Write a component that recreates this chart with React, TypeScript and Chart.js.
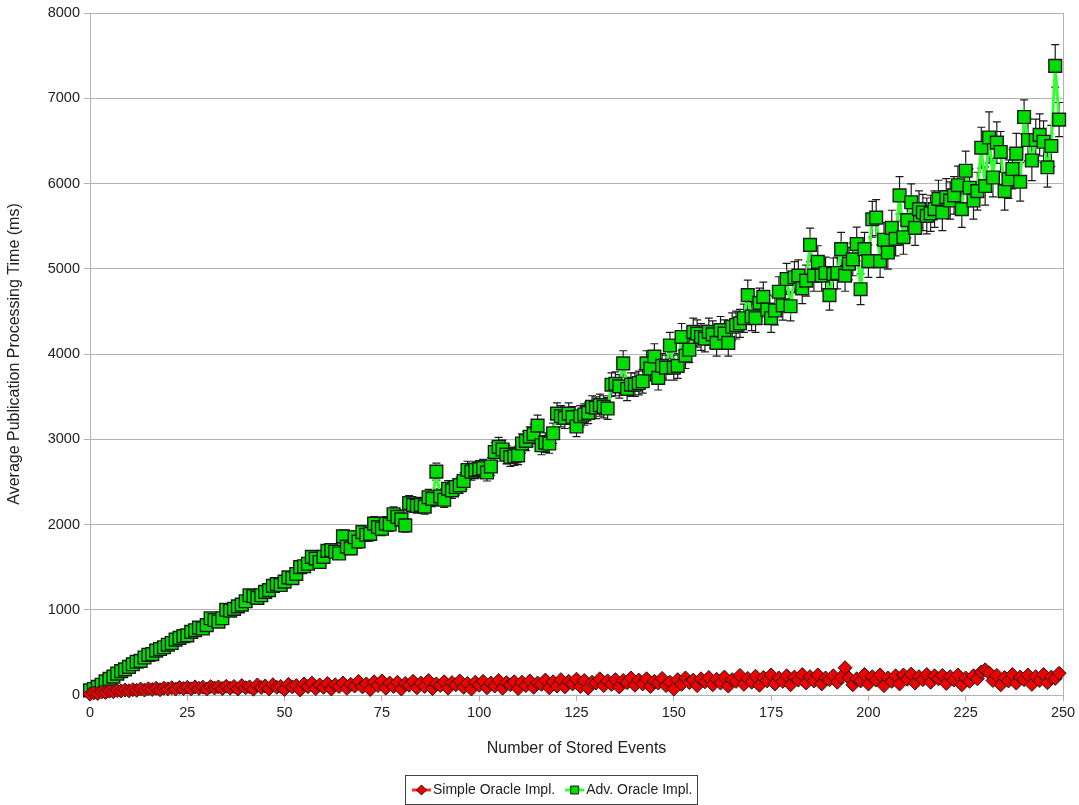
import { useEffect, useRef } from "react";
import { Chart, registerables } from "chart.js";

Chart.register(...registerables);

// Number of stored events for each measurement (0 .. 249)
const EVENT_COUNTS: number[] = Array.from({ length: 250 }, (_, i) => i);

const SERIES_LABELS = ["Simple Oracle Impl.", "Adv. Oracle Impl."];

// Average publication processing time (ms), simple oracle implementation
const SIMPLE_MS: number[] = [
  10, 25, 18, 35, 30, 45, 38, 52, 48, 58,
  50, 62, 55, 70, 58, 72, 65, 78, 62, 80,
  72, 85, 70, 88, 75, 90, 72, 95, 78, 92,
  70, 98, 82, 95, 75, 102, 80, 100, 70, 110,
  85, 95, 68, 118, 88, 105, 72, 120, 90, 100,
  65, 125, 95, 110, 60, 130, 98, 140, 75, 118,
  90, 135, 70, 120, 100, 140, 78, 125, 105, 160,
  95, 130, 65, 155, 110, 165, 80, 140, 100, 150,
  70, 135, 115, 160, 85, 140, 100, 170, 75, 130,
  110, 155, 80, 145, 120, 165, 90, 135, 70, 150,
  115, 160, 85, 140, 105, 170, 80, 145, 120, 155,
  75, 150, 110, 165, 90, 140, 125, 175, 85, 155,
  105, 180, 95, 160, 130, 185, 100, 170, 80, 150,
  140, 190, 110, 165, 125, 180, 95, 170, 145, 200,
  115, 175, 130, 190, 100, 160, 140, 195, 110, 150,
  70, 180, 125, 200, 145, 175, 110, 190, 155, 205,
  120, 185, 140, 210, 105, 180, 160, 230, 125, 195,
  150, 220, 115, 205, 165, 235, 130, 200, 160, 225,
  120, 210, 175, 240, 140, 215, 165, 235, 130, 200,
  180, 225, 150, 210, 320, 200, 120, 190, 165, 240,
  130, 215, 175, 235, 110, 200, 160, 225, 130, 235,
  185, 245, 140, 215, 180, 240, 150, 225, 190, 230,
  135, 215, 175, 235, 120, 200, 160, 225, 190, 270,
  295, 260, 170, 230, 120, 205, 165, 240, 140, 210,
  180, 235, 125, 215, 170, 240, 145, 210, 195, 255,
];

// Average publication processing time (ms), advanced oracle implementation
const ADV_MS: number[] = [
  55, 70, 95, 120, 160, 190, 215, 250, 280, 300,
  330, 360, 390, 400, 440, 470, 480, 520, 540, 560,
  590, 610, 650, 670, 690, 700, 740, 760, 790, 780,
  820, 900, 880, 860, 900, 1000, 990, 1010, 1040, 1060,
  1100, 1170, 1160, 1140, 1170, 1210, 1230, 1280, 1300, 1290,
  1330, 1380, 1370, 1420, 1500, 1510, 1540, 1620, 1600, 1560,
  1620, 1690, 1700, 1680, 1660, 1860, 1740, 1720, 1850, 1800,
  1910, 1880, 1890, 2010, 1970, 1950, 2010, 2000, 2120, 2090,
  2060, 1990, 2250, 2230, 2220, 2230, 2210, 2320, 2300, 2620,
  2330, 2290, 2420, 2400, 2440, 2460, 2510, 2640, 2620, 2640,
  2650, 2660, 2610, 2680, 2850, 2910, 2880, 2820, 2790, 2800,
  2810, 2950, 2980, 3030, 3060, 3160, 2930, 2960, 2950, 3070,
  3300, 3270, 3250, 3300, 3260, 3150, 3270, 3290, 3310, 3380,
  3370, 3400, 3380, 3360, 3640, 3650, 3620, 3890, 3590, 3640,
  3640, 3660, 3680, 3890, 3830, 3970, 3720, 3860, 3840, 4100,
  3840, 3860, 4200, 3980, 4050, 4260, 4240, 4200, 4180, 4260,
  4230, 4130, 4280, 4240, 4130, 4320, 4340, 4360, 4420, 4690,
  4440, 4420, 4600, 4670, 4520, 4420, 4510, 4730, 4570, 4880,
  4560, 4900, 4920, 4770, 4860, 5280, 4920, 5080, 4920, 4950,
  4690, 4940, 4950, 5230, 4920, 5060, 5110, 5290, 4760, 5230,
  5090, 5580, 5600, 5090, 5340, 5190, 5480, 5350, 5860, 5370,
  5570, 5780, 5480, 5700, 5660, 5620, 5650, 5700, 5820, 5660,
  5840, 5800, 5860, 5980, 5700, 6150, 5950, 5800, 5910, 6420,
  5970, 6540, 6070, 6480, 6370, 5910, 6050, 6170, 6350, 6020,
  6780, 6510, 6270, 6510, 6570, 6490, 6190, 6440, 7380, 6750,
];

// Half-width of the error bar (ms) for each advanced-oracle measurement
const ADV_ERR: number[] = [
  8, 10, 12, 12, 14, 15, 16, 18, 18, 20,
  20, 22, 22, 24, 25, 26, 26, 28, 28, 30,
  30, 31, 32, 33, 34, 35, 36, 36, 38, 38,
  40, 42, 42, 40, 42, 45, 44, 46, 46, 48,
  50, 52, 52, 50, 52, 54, 55, 56, 58, 58,
  60, 60, 62, 62, 64, 65, 66, 68, 68, 66,
  70, 72, 72, 70, 70, 78, 74, 74, 76, 76,
  78, 78, 80, 82, 80, 80, 82, 82, 86, 84,
  84, 80, 88, 88, 86, 88, 88, 92, 90, 100,
  92, 90, 94, 94, 96, 96, 98, 102, 100, 102,
  100, 104, 100, 104, 110, 112, 110, 108, 108, 108,
  108, 112, 114, 116, 118, 122, 112, 114, 114, 118,
  126, 124, 124, 126, 124, 120, 124, 126, 126, 130,
  128, 130, 130, 128, 138, 140, 138, 148, 136, 138,
  138, 140, 140, 148, 146, 150, 142, 146, 146, 154,
  146, 146, 158, 150, 152, 160, 160, 158, 156, 160,
  158, 156, 160, 160, 156, 162, 164, 164, 166, 176,
  166, 166, 172, 174, 170, 166, 170, 176, 172, 182,
  172, 184, 184, 178, 182, 196, 184, 190, 184, 186,
  176, 186, 186, 196, 184, 190, 192, 198, 180, 196,
  190, 210, 210, 190, 200, 194, 206, 200, 220, 200,
  208, 216, 206, 214, 212, 210, 212, 214, 218, 212,
  218, 218, 220, 224, 214, 230, 222, 218, 222, 240,
  224, 300, 228, 244, 240, 222, 226, 232, 238, 226,
  200, 244, 236, 244, 246, 244, 232, 242, 250, 200,
];

const X_MIN = 0;
const X_MAX = 250;
const X_STEP = 25;
const Y_MIN = 0;
const Y_MAX = 8000;
const Y_STEP = 1000;

const FONT_FAMILY = "'Liberation Sans', Arial, Helvetica, sans-serif";
const TEXT_COLOR = "#222222";
const GRID_COLOR = "#b3b3b3";

const SIMPLE_LINE = "#ff2a2a";
const SIMPLE_FILL = "#ee0000";
const ADV_LINE = "#33ff33";
const ADV_FILL = "#00dd00";
const MARKER_EDGE = "#1a1a1a";

// Vertical error bars with caps, drawn beneath the series
const errorBarPlugin = {
  id: "errorBars",
  beforeDatasetsDraw(chart: any) {
    const { ctx, scales } = chart;
    const xs = scales.x;
    const ys = scales.y;
    ctx.save();
    ctx.strokeStyle = MARKER_EDGE;
    ctx.lineWidth = 1.2;
    ADV_MS.forEach((v, i) => {
      const e = ADV_ERR[i];
      const px = xs.getPixelForValue(EVENT_COUNTS[i]);
      const top = ys.getPixelForValue(v + e);
      const bot = ys.getPixelForValue(v - e);
      ctx.beginPath();
      ctx.moveTo(px, top);
      ctx.lineTo(px, bot);
      ctx.moveTo(px - 4, top);
      ctx.lineTo(px + 4, top);
      ctx.moveTo(px - 4, bot);
      ctx.lineTo(px + 4, bot);
      ctx.stroke();
    });
    ctx.restore();
  },
};

// Thin frame around the plotting area
const framePlugin = {
  id: "plotFrame",
  beforeDatasetsDraw(chart: any) {
    const { ctx, chartArea } = chart;
    ctx.save();
    ctx.strokeStyle = GRID_COLOR;
    ctx.lineWidth = 1;
    ctx.strokeRect(
      Math.round(chartArea.left) + 0.5,
      Math.round(chartArea.top) + 0.5,
      Math.round(chartArea.right - chartArea.left),
      Math.round(chartArea.bottom - chartArea.top)
    );
    ctx.restore();
  },
};

function drawMarker(ctx: CanvasRenderingContext2D, style: string, x: number, y: number, r: number) {
  ctx.beginPath();
  if (style === "rectRot") {
    ctx.moveTo(x, y - r);
    ctx.lineTo(x + r, y);
    ctx.lineTo(x, y + r);
    ctx.lineTo(x - r, y);
    ctx.closePath();
  } else {
    ctx.rect(x - r, y - r, 2 * r, 2 * r);
  }
  ctx.fill();
  ctx.stroke();
}

// Boxed legend under the x-axis title: line sample with marker, then label
const boxLegendPlugin = {
  id: "boxLegend",
  afterDraw(chart: any) {
    const { ctx } = chart;
    const datasets = chart.data.datasets;
    ctx.save();
    ctx.font = `14px ${FONT_FAMILY}`;
    ctx.textBaseline = "middle";
    const symbolW = 19;
    const symbolGap = 2;
    const itemGap = 10;
    const padL = 7;
    const padR = 5;
    const widths = datasets.map((d: any) => symbolW + symbolGap + ctx.measureText(d.label).width);
    const total = padL + padR + widths.reduce((a: number, b: number) => a + b, 0) + itemGap * (datasets.length - 1);
    const centerX = chart.width / 2 + 12;
    const boxTop = 775;
    const boxH = 29;
    const left = Math.round(centerX - total / 2);
    ctx.strokeStyle = "#444444";
    ctx.lineWidth = 1;
    ctx.strokeRect(left + 0.5, boxTop + 0.5, Math.round(total), boxH);
    const cy = boxTop + boxH / 2 + 0.5;
    let x = left + padL;
    datasets.forEach((d: any, i: number) => {
      ctx.strokeStyle = d.borderColor;
      ctx.lineWidth = 3;
      ctx.beginPath();
      ctx.moveTo(x, cy);
      ctx.lineTo(x + symbolW, cy);
      ctx.stroke();
      ctx.fillStyle = d.pointBackgroundColor;
      ctx.strokeStyle = d.pointBorderColor;
      ctx.lineWidth = 1;
      drawMarker(ctx, d.pointStyle, x + symbolW / 2, cy, d.pointStyle === "rectRot" ? 5 : 4);
      ctx.fillStyle = TEXT_COLOR;
      ctx.textAlign = "left";
      ctx.fillText(d.label, x + symbolW + symbolGap, cy);
      x += widths[i] + itemGap;
    });
    ctx.restore();
  },
};

export default function App() {
  const canvasRef = useRef<HTMLCanvasElement | null>(null);

  useEffect(() => {
    const canvas = canvasRef.current;
    if (!canvas) return;
    Chart.defaults.font.family = FONT_FAMILY;
    Chart.defaults.color = TEXT_COLOR;

    const chart = new Chart(canvas, {
      type: "line",
      data: {
        datasets: [
          {
            label: SERIES_LABELS[0],
            data: EVENT_COUNTS.map((x, i) => ({ x, y: SIMPLE_MS[i] })),
            borderColor: SIMPLE_LINE,
            borderWidth: 3,
            pointStyle: "rectRot",
            pointRadius: 7,
            pointBackgroundColor: SIMPLE_FILL,
            pointBorderColor: MARKER_EDGE,
            pointBorderWidth: 1,
            tension: 0,
            clip: false as any,
          },
          {
            label: SERIES_LABELS[1],
            data: EVENT_COUNTS.map((x, i) => ({ x, y: ADV_MS[i] })),
            borderColor: ADV_LINE,
            borderWidth: 3,
            pointStyle: "rect",
            pointRadius: 9,
            pointBackgroundColor: ADV_FILL,
            pointBorderColor: MARKER_EDGE,
            pointBorderWidth: 1.4,
            tension: 0,
            clip: false as any,
          },
        ],
      },
      options: {
        responsive: false,
        animation: false,
        layout: { padding: { left: 0, top: 13, right: 16, bottom: 40 } },
        plugins: {
          legend: { display: false },
          tooltip: { enabled: false },
        },
        scales: {
          x: {
            type: "linear",
            min: X_MIN,
            max: X_MAX,
            afterFit(scale: any) {
              scale.height = 70;
            },
            ticks: {
              stepSize: X_STEP,
              padding: 3,
              color: TEXT_COLOR,
              font: { size: 14.5 },
              maxRotation: 0,
              callback: (v: any) => String(v),
            },
            grid: {
              display: true,
              drawOnChartArea: false,
              drawTicks: true,
              tickLength: 6,
              color: GRID_COLOR,
            },
            border: { display: true, color: GRID_COLOR },
            title: {
              display: true,
              text: "Number of Stored Events",
              color: TEXT_COLOR,
              font: { size: 16 },
              padding: { top: 0, bottom: 7 },
            },
          },
          y: {
            type: "linear",
            min: Y_MIN,
            max: Y_MAX,
            afterFit(scale: any) {
              scale.width = 90;
            },
            ticks: {
              stepSize: Y_STEP,
              padding: 4,
              color: TEXT_COLOR,
              font: { size: 14.5 },
              callback: (v: any) => String(v),
            },
            grid: {
              color: GRID_COLOR,
              tickLength: 6,
              drawTicks: true,
            },
            border: { display: true, color: GRID_COLOR },
            title: {
              display: true,
              text: "Average Publication Processing Time (ms)",
              color: TEXT_COLOR,
              font: { size: 16 },
              padding: { top: 5, bottom: 0 },
            },
          },
        },
      },
      plugins: [framePlugin, errorBarPlugin, boxLegendPlugin],
    });

    return () => chart.destroy();
  }, []);

  return (
    <canvas
      ref={canvasRef}
      width={1079}
      height={805}
      style={{ position: "fixed", left: 0, top: 0, display: "block", background: "#ffffff" }}
    />
  );
}
